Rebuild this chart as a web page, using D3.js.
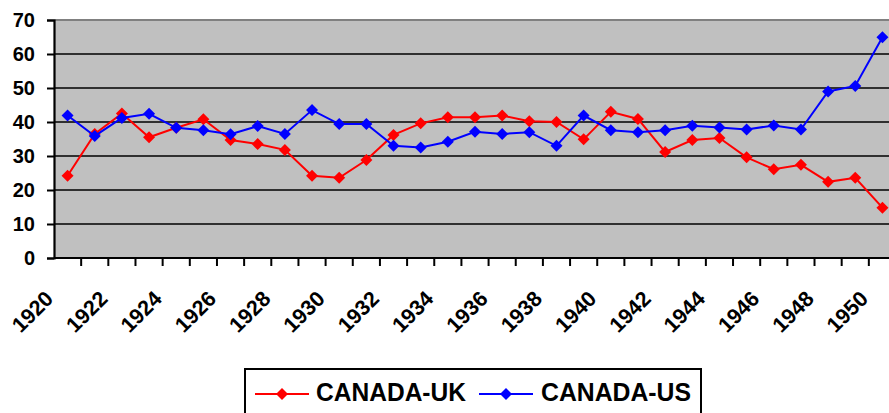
<!DOCTYPE html>
<html><head><meta charset="utf-8">
<script src="https://cdn.jsdelivr.net/npm/d3@7"></script>
<style>
html,body{margin:0;padding:0;background:#fff;overflow:hidden}
svg{display:block;font-family:"Liberation Sans",Arial,sans-serif;font-weight:bold}
</style></head>
<body>
<svg id="c" width="889" height="413"></svg>
<script>
const years = d3.range(1920, 1951);
const canadaUK = [24.2,36.5,42.5,35.5,38.3,40.8,34.7,33.5,31.8,24.2,23.6,28.8,36.2,39.6,41.4,41.4,41.9,40.2,40.0,34.9,43.0,40.9,31.2,34.7,35.3,29.6,26.1,27.4,22.4,23.6,14.8];
const canadaUS = [41.9,35.9,41.2,42.4,38.3,37.6,36.4,38.8,36.5,43.5,39.4,39.4,33.0,32.5,34.2,37.1,36.5,37.0,33.0,41.9,37.6,37.0,37.6,38.9,38.4,37.8,39.0,37.8,49.0,50.6,64.9];
const yTicks = [0,10,20,30,40,50,60,70];
const xLabels = d3.range(1920, 1951, 2);
const series = [
  {name:"CANADA-UK", values:canadaUK, color:"#FF0000"},
  {name:"CANADA-US", values:canadaUS, color:"#0000FF"}
];

const svg = d3.select("#c");
const L = 54, R = 896, T = 20, B = 258;
const x = d3.scaleBand().domain(years).range([L, R]).padding(0);
const y = d3.scaleLinear().domain([0, 70]).range([B, T]);
const cx = d => x(d) + x.bandwidth()/2;

// plot area
svg.append("rect").attr("x", L).attr("y", T).attr("width", R-L).attr("height", B-T).attr("fill", "#C0C0C0");
svg.append("line").attr("x1", L).attr("x2", R).attr("y1", T).attr("y2", T).attr("stroke", "#808080").attr("stroke-width", 2);

// gridlines
svg.append("g").selectAll("line").data(yTicks.filter(v => v>0 && v<70)).join("line")
  .attr("x1", L).attr("x2", R).attr("y1", d => y(d)).attr("y2", d => y(d))
  .attr("stroke", "#000").attr("stroke-width", 1.6);

// y axis
const ya = svg.append("g").attr("transform", `translate(${L},0)`)
  .call(d3.axisLeft(y).tickValues(yTicks).tickSize(7).tickPadding(12).tickFormat(d3.format("d")));
ya.select(".domain").attr("stroke", "#000").attr("stroke-width", 2.2);
ya.selectAll(".tick line").attr("stroke", "#000").attr("stroke-width", 2);
ya.selectAll("text").attr("font-size", 20).attr("font-weight", "bold").attr("fill", "#000")
  .attr("font-family", "Liberation Sans, Arial, sans-serif");

// x axis line and ticks at category boundaries
svg.append("line").attr("x1", L).attr("x2", R).attr("y1", B).attr("y2", B).attr("stroke", "#000").attr("stroke-width", 2.2);
svg.append("g").selectAll("line").data(years.slice(1)).join("line")
  .attr("x1", d => x(d)).attr("x2", d => x(d)).attr("y1", B).attr("y2", B+8)
  .attr("stroke", "#000").attr("stroke-width", 2);

// x labels
svg.append("g").selectAll("text").data(xLabels).join("text")
  .attr("transform", d => `translate(${cx(d)-13},${300}) rotate(-45)`)
  .attr("text-anchor", "end").attr("font-size", 21.5).attr("font-weight", "bold").attr("fill", "#000")
  .text(d => d);

// lines & markers
const diamond = (px, py, r) => `M${px},${py-r}L${px+r},${py}L${px},${py+r}L${px-r},${py}Z`;
const line = d3.line().x((d,i) => cx(years[i])).y(d => y(d));
series.forEach(s => {
  svg.append("path").datum(s.values).attr("d", line).attr("fill", "none").attr("stroke", s.color).attr("stroke-width", 2);
  svg.append("g").selectAll("path").data(s.values).join("path")
    .attr("d", (d,i) => diamond(cx(years[i]), y(d), 6)).attr("fill", s.color);
});

// legend
const lg = svg.append("g");
lg.append("rect").attr("x", 245).attr("y", 369).attr("width", 456).attr("height", 60)
  .attr("fill", "#fff").attr("stroke", "#000").attr("stroke-width", 2);
const legItems = [{s:series[0], x0:255, tx:316}, {s:series[1], x0:479, tx:541}];
legItems.forEach(it => {
  lg.append("line").attr("x1", it.x0).attr("x2", it.x0+54).attr("y1", 394).attr("y2", 394).attr("stroke", it.s.color).attr("stroke-width", 2);
  lg.append("path").attr("d", diamond(it.x0+27, 394, 6)).attr("fill", it.s.color);
  lg.append("text").attr("x", it.tx).attr("y", 401).attr("font-size", 25).attr("font-weight", "bold")
    .attr("fill", "#000").attr("textLength", 150).attr("lengthAdjust", "spacingAndGlyphs").text(it.s.name);
});
</script>
</body></html>
